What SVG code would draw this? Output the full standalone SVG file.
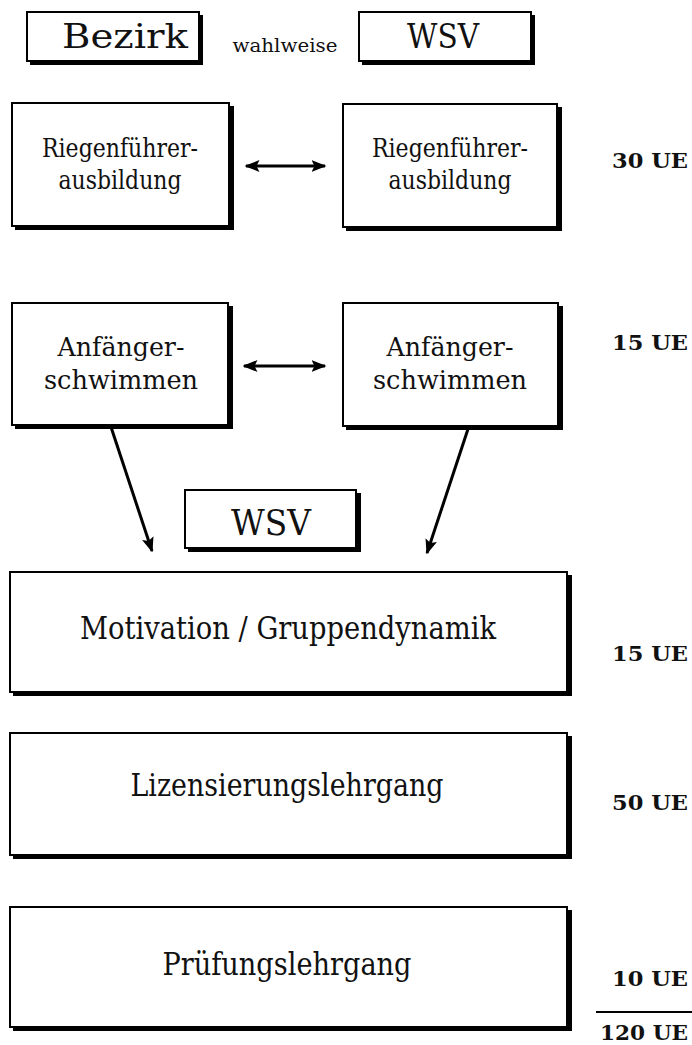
<svg xmlns="http://www.w3.org/2000/svg" width="692" height="1045" viewBox="0 0 692 1045">
<style>
.shadow{fill:#000}
.box{fill:#fff;stroke:#000;stroke-width:2}
.t{font-family:"DejaVu Serif","Liberation Serif",serif;fill:#111;text-anchor:middle}
.ue{font-family:"DejaVu Serif","Liberation Serif",serif;font-weight:bold;fill:#111;font-size:21px}
.conn{stroke:#000;stroke-width:3;fill:none}
</style>
<defs>
<marker id="ah" viewBox="0 0 10 10" refX="9" refY="5" markerWidth="5" markerHeight="5" orient="auto-start-reverse" markerUnits="strokeWidth">
<path d="M0,1 L10,5 L0,9 L2,5 Z" fill="#000"/>
</marker>
</defs>
<rect width="692" height="1045" fill="#fff"/>
<g id="n-bezirk">
<rect class="shadow" x="30" y="15" width="173" height="50"/>
<rect class="box" x="27" y="12" width="172" height="49"/>
<text class="t" x="125" y="48" font-size="33" textLength="126" lengthAdjust="spacingAndGlyphs">Bezirk</text>
</g>
<g id="n-wahlweise">
<text class="t" x="285" y="52" font-size="19" textLength="105" lengthAdjust="spacingAndGlyphs">wahlweise</text>
</g>
<g id="n-wsv-top">
<rect class="shadow" x="362" y="15" width="173" height="50"/>
<rect class="box" x="359" y="12" width="172" height="49"/>
<text class="t" x="443" y="48" font-size="33" textLength="72" lengthAdjust="spacingAndGlyphs">WSV</text>
</g>
<g id="n-rf-left">
<rect class="shadow" x="15" y="106" width="219" height="124"/>
<rect class="box" x="12" y="103" width="217" height="123"/>
<text class="t" x="120" y="157" font-size="26" textLength="156" lengthAdjust="spacingAndGlyphs">Riegenführer-</text>
<text class="t" x="120" y="189" font-size="26" textLength="123" lengthAdjust="spacingAndGlyphs">ausbildung</text>
</g>
<g id="n-rf-right">
<rect class="shadow" x="346" y="107" width="216" height="124"/>
<rect class="box" x="343" y="104" width="214" height="123"/>
<text class="t" x="450" y="157" font-size="26" textLength="156" lengthAdjust="spacingAndGlyphs">Riegenführer-</text>
<text class="t" x="450" y="189" font-size="26" textLength="123" lengthAdjust="spacingAndGlyphs">ausbildung</text>
</g>
<g id="n-af-left">
<rect class="shadow" x="15" y="306" width="218" height="123"/>
<rect class="box" x="12" y="303" width="216" height="122"/>
<text class="t" x="121" y="356" font-size="26" textLength="127" lengthAdjust="spacingAndGlyphs">Anfänger-</text>
<text class="t" x="121" y="389" font-size="26" textLength="154" lengthAdjust="spacingAndGlyphs">schwimmen</text>
</g>
<g id="n-af-right">
<rect class="shadow" x="346" y="306" width="217" height="124"/>
<rect class="box" x="343" y="303" width="215" height="123"/>
<text class="t" x="450" y="356" font-size="26" textLength="127" lengthAdjust="spacingAndGlyphs">Anfänger-</text>
<text class="t" x="450" y="389" font-size="26" textLength="154" lengthAdjust="spacingAndGlyphs">schwimmen</text>
</g>
<g id="n-wsv-mid">
<rect class="shadow" x="188" y="493" width="173" height="59"/>
<rect class="box" x="185" y="490" width="171" height="58"/>
<text class="t" x="271" y="535" font-size="35" textLength="80" lengthAdjust="spacingAndGlyphs">WSV</text>
</g>
<g id="n-motivation">
<rect class="shadow" x="13" y="575" width="559" height="121"/>
<rect class="box" x="10" y="572" width="557" height="120"/>
<text class="t" x="288" y="639" font-size="31" textLength="416" lengthAdjust="spacingAndGlyphs">Motivation / Gruppendynamik</text>
</g>
<g id="n-lizenz">
<rect class="shadow" x="13" y="736" width="559" height="123"/>
<rect class="box" x="10" y="733" width="557" height="122"/>
<text class="t" x="287" y="796" font-size="31" textLength="313" lengthAdjust="spacingAndGlyphs">Lizensierungslehrgang</text>
</g>
<g id="n-pruefung">
<rect class="shadow" x="13" y="910" width="559" height="121"/>
<rect class="box" x="10" y="907" width="557" height="120"/>
<text class="t" x="287" y="975" font-size="31" textLength="249" lengthAdjust="spacingAndGlyphs">Prüfungslehrgang</text>
</g>
<g id="ue-labels">
<text class="ue" x="612" y="168" textLength="76" lengthAdjust="spacingAndGlyphs">30 UE</text>
<text class="ue" x="612" y="350" textLength="76" lengthAdjust="spacingAndGlyphs">15 UE</text>
<text class="ue" x="612" y="661" textLength="76" lengthAdjust="spacingAndGlyphs">15 UE</text>
<text class="ue" x="612" y="810" textLength="76" lengthAdjust="spacingAndGlyphs">50 UE</text>
<text class="ue" x="612" y="986" textLength="76" lengthAdjust="spacingAndGlyphs">10 UE</text>
<line x1="596" y1="1012" x2="692" y2="1012" stroke="#000" stroke-width="2"/>
<text class="ue" x="600" y="1040" textLength="88" lengthAdjust="spacingAndGlyphs">120 UE</text>
</g>
<g id="connectors">
<line class="conn" x1="246" y1="166" x2="325" y2="166" marker-start="url(#ah)" marker-end="url(#ah)"/>
<line class="conn" x1="244" y1="366" x2="325" y2="366" marker-start="url(#ah)" marker-end="url(#ah)"/>
<line class="conn" x1="111" y1="427" x2="152" y2="551" marker-end="url(#ah)"/>
<line class="conn" x1="468" y1="429" x2="427" y2="553" marker-end="url(#ah)"/>
</g>
</svg>
